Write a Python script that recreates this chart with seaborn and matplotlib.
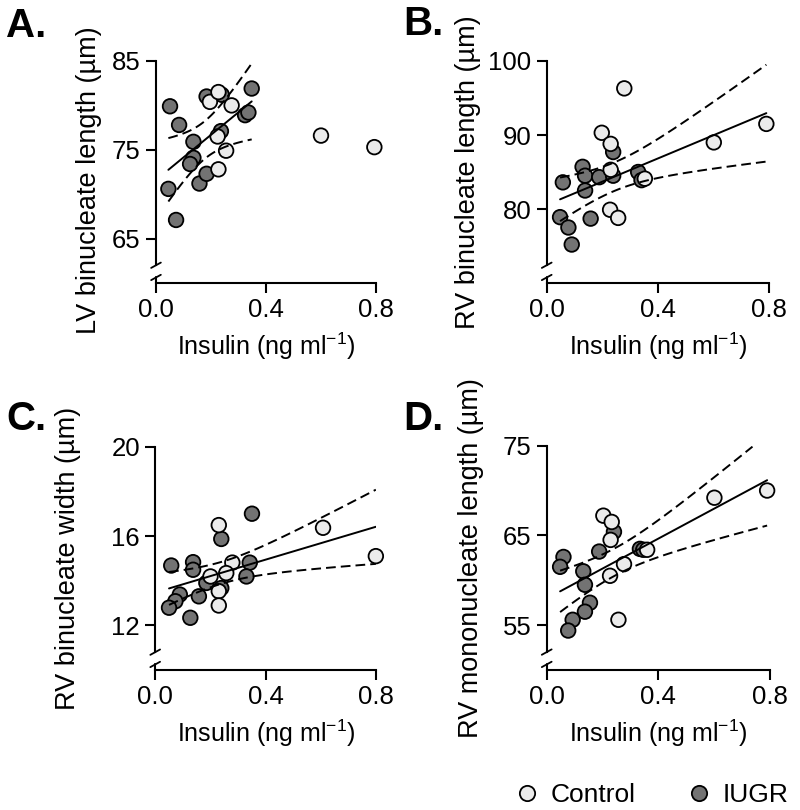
import numpy as np
import pandas as pd
import matplotlib
matplotlib.use("Agg")
import matplotlib.pyplot as plt
import seaborn as sns

# panel A: LV binucleate length
a_ctrl_x = [0.196, 0.227, 0.275, 0.224, 0.255, 0.227, 0.600, 0.794]
a_ctrl_y = [80.4, 81.5, 80.0, 76.5, 74.9, 72.8, 76.6, 75.3]
a_iugr_x = [0.051, 0.084, 0.045, 0.073, 0.136, 0.136, 0.124, 0.158, 0.184, 0.184, 0.239, 0.236, 0.324, 0.336, 0.348]
a_iugr_y = [79.9, 77.8, 70.6, 67.1, 75.9, 74.1, 73.4, 71.2, 72.3, 81.0, 81.2, 77.1, 78.9, 79.2, 81.9]

# panel B: RV binucleate length
b_ctrl_x = [0.198, 0.230, 0.230, 0.228, 0.257, 0.279, 0.353, 0.601, 0.790]
b_ctrl_y = [90.3, 88.8, 85.3, 79.9, 78.8, 96.3, 84.1, 89.0, 91.5]
b_iugr_x = [0.058, 0.048, 0.078, 0.090, 0.129, 0.138, 0.138, 0.158, 0.189, 0.239, 0.239, 0.329, 0.341]
b_iugr_y = [83.6, 78.9, 77.5, 75.2, 85.7, 84.5, 82.5, 78.7, 84.3, 87.7, 84.5, 85.0, 83.9]

# panel C: RV binucleate width
c_ctrl_x = [0.230, 0.279, 0.257, 0.200, 0.230, 0.230, 0.607, 0.798]
c_ctrl_y = [16.49, 14.81, 14.34, 14.19, 13.53, 12.89, 16.37, 15.10]
c_iugr_x = [0.058, 0.137, 0.137, 0.342, 0.330, 0.185, 0.239, 0.158, 0.089, 0.073, 0.050, 0.127, 0.239, 0.350]
c_iugr_y = [14.68, 14.83, 14.49, 14.81, 14.19, 13.90, 13.67, 13.30, 13.38, 13.08, 12.79, 12.34, 15.87, 17.00]

# panel D: RV mononucleate length
d_ctrl_x = [0.203, 0.233, 0.229, 0.277, 0.227, 0.257, 0.360, 0.601, 0.790]
d_ctrl_y = [67.2, 66.5, 64.5, 61.8, 60.5, 55.6, 63.4, 69.2, 70.0]
d_iugr_x = [0.241, 0.188, 0.060, 0.048, 0.131, 0.137, 0.334, 0.346, 0.155, 0.137, 0.093, 0.077]
d_iugr_y = [65.4, 63.2, 62.6, 61.5, 61.0, 59.5, 63.5, 63.4, 57.5, 56.5, 55.6, 54.4]

groups = ["Control", "IUGR"]
colors = {"Control": "#ebebeb", "IUGR": "#737373"}
xlabel = r"Insulin (ng ml$^{-1}$)"

panels = [
    ("A.", "LV binucleate length (µm)", a_ctrl_x, a_ctrl_y, a_iugr_x, a_iugr_y, (60, 85), [65, 75, 85], "IUGR"),
    ("B.", "RV binucleate length (µm)", b_ctrl_x, b_ctrl_y, b_iugr_x, b_iugr_y, (70, 100), [80, 90, 100], "all"),
    ("C.", "RV binucleate width (µm)", c_ctrl_x, c_ctrl_y, c_iugr_x, c_iugr_y, (10, 20), [12, 16, 20], "all"),
    ("D.", "RV mononucleate length (µm)", d_ctrl_x, d_ctrl_y, d_iugr_x, d_iugr_y, (50, 75), [55, 65, 75], "all"),
]

rects = [
    [0.195, 0.6506, 0.275, 0.2741],
    [0.6834, 0.6506, 0.278, 0.2741],
    [0.194, 0.1728, 0.2765, 0.2757],
    [0.6834, 0.1728, 0.279, 0.277],
]
letter_pos = [(0.008, 0.954), (0.504, 0.957), (0.008, 0.469), (0.504, 0.469)]
ylabel_pos = [(-0.245, 0.465), (-0.295, 0.5), (-0.337, 0.5), (-0.28, 0.5)]


def t_crit(df):
    z = 1.959964
    return z + (z**3 + z) / (4 * df) + (5 * z**5 + 16 * z**3 + 3 * z) / (96 * df**2)


def ci_band(x, y, xs):
    x = np.asarray(x)
    y = np.asarray(y)
    n = len(x)
    b, a = np.polyfit(x, y, 1)
    resid = y - (a + b * x)
    s = np.sqrt(np.sum(resid**2) / (n - 2))
    sxx = np.sum((x - x.mean())**2)
    se = s * np.sqrt(1.0 / n + (xs - x.mean())**2 / sxx)
    fit = a + b * xs
    h = t_crit(n - 2) * se
    return fit - h, fit + h


sns.set_style("ticks")
plt.rcParams["font.family"] = ["Liberation Sans", "DejaVu Sans"]
plt.rcParams["mathtext.default"] = "regular"
for key in ["text.color", "axes.labelcolor", "xtick.color", "ytick.color", "axes.edgecolor"]:
    plt.rcParams[key] = "black"

fig = plt.figure(figsize=(8, 8.1), dpi=100)

for i, (letter, ylab, cx, cy, ix, iy, ylim, yticks, fitset) in enumerate(panels):
    ax = fig.add_axes(rects[i])
    df = pd.DataFrame({
        "insulin": list(ix) + list(cx),
        "value": list(iy) + list(cy),
        "group": ["IUGR"] * len(ix) + ["Control"] * len(cx),
    })
    sns.scatterplot(data=df, x="insulin", y="value", hue="group", hue_order=groups,
                    palette=colors, s=110, edgecolor="black", linewidth=1.3,
                    legend=False, clip_on=False, zorder=3, ax=ax)

    if fitset == "IUGR":
        fx, fy = np.array(ix), np.array(iy)
    else:
        fx, fy = np.array(list(ix) + list(cx)), np.array(list(iy) + list(cy))
    sns.regplot(x=fx, y=fy, scatter=False, ci=None, truncate=True, ax=ax,
                line_kws={"color": "black", "lw": 1.4, "zorder": 4})
    xs = np.linspace(fx.min(), fx.max(), 100)
    lo, hi = ci_band(fx, fy, xs)
    keep = (hi <= ylim[1])
    ax.plot(xs[keep], hi[keep], color="black", lw=1.4, ls=(0, (5, 2.6)), zorder=4)
    ax.plot(xs, lo, color="black", lw=1.4, ls=(0, (5, 2.6)), zorder=4)

    ax.set_xlim(0, 0.8)
    ax.set_ylim(*ylim)
    ax.set_xticks([0.0, 0.4, 0.8])
    ax.set_xticklabels(["0.0", "0.4", "0.8"])
    ax.set_yticks(yticks)
    ax.set_xlabel(xlabel, fontsize=18, labelpad=6)
    ax.set_ylabel(ylab, fontsize=19.5)
    ax.yaxis.set_label_coords(*ylabel_pos[i])
    ax.tick_params(direction="out", length=7, width=1.5, labelsize=18.5, pad=4)
    sns.despine(ax=ax)
    for sp in ["left", "bottom"]:
        ax.spines[sp].set_linewidth(1.5)
    span = ylim[1] - ylim[0]
    ax.spines["left"].set_bounds(ylim[0] + 0.08 * span, ylim[1])
    ax.spines["bottom"].set_bounds(0, 0.8)

    # axis break
    ax.plot([0, 0], [0, 0.025], transform=ax.transAxes, color="black", lw=1.5, clip_on=False)
    for yb in (0.08, 0.025):
        ax.plot([-0.022, 0.022], [yb - 0.012, yb + 0.012], transform=ax.transAxes,
                color="black", lw=1.3, clip_on=False)

    fig.text(letter_pos[i][0], letter_pos[i][1], letter, fontsize=29,
             fontweight="bold", va="baseline")

handles = [
    plt.Line2D([], [], ls="", marker="o", markersize=11, markerfacecolor=colors[g],
               markeredgecolor="black", markeredgewidth=1.3)
    for g in groups
]
fig.legend(handles, groups, loc="center", bbox_to_anchor=(0.812, 0.018), ncol=2,
           frameon=False, fontsize=19, handletextpad=0.3, columnspacing=1.8,
           handlelength=1.2, borderpad=0.2)

fig.savefig("out.png", dpi=100)
